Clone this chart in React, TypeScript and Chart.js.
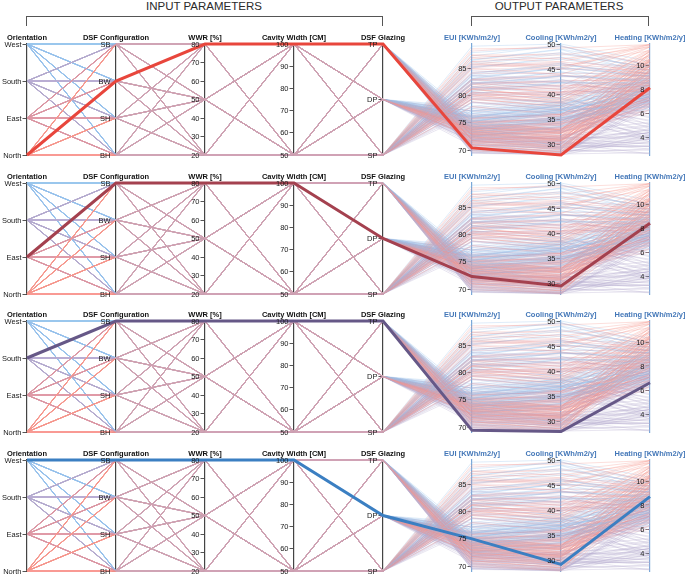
import React, { useEffect, useRef } from "react";
import { Chart, registerables } from "chart.js";

Chart.register(...registerables);

const FONT = '"Liberation Sans", Arial, Helvetica, sans-serif';

const axisTitles = [
  "Orientation",
  "DSF Configuration",
  "WWR [%]",
  "Cavity Width [CM]",
  "DSF Glazing",
  "EUI [KWh/m2/y]",
  "Cooling [KWh/m2/y]",
  "Heating [KWh/m2/y]",
];

// categorical axes, bottom -> top
const orientations = ["North", "East", "South", "West"];
const configurations = ["BH", "SH", "BW", "SB"];
const glazings = ["SP", "DP", "TP"];
// order in which the data blocks are listed
const configDataOrder = ["SB", "BW", "SH", "BH"];
const wwrLevels = [20, 50, 80];
const cavityLevels = [50, 100];
const glazingDataOrder = ["SP", "DP", "TP"];

const axisMin = [0, 0, 20, 50, 0, 69.1, 28, 2.5];
const axisMax = [3, 3, 80, 100, 2, 89.5, 50, 11.75];
const axisTicks = [
  [0, 1, 2, 3],
  [0, 1, 2, 3],
  [20, 30, 40, 50, 60, 70, 80],
  [50, 60, 70, 80, 90, 100],
  [0, 1, 2],
  [70, 75, 80, 85],
  [30, 35, 40, 45, 50],
  [4, 6, 8, 10],
];

// Each block of 18: WWR 20 / 50 / 80 x cavity 50 / 100 x glazing SP, DP, TP; blocks SB, BW, SH, BH
const euiNorth = [
  79.3, 73.1, 71.8, 78.0, 72.4, 71.0, 81.2, 73.7, 71.3, 80.1, 72.5, 70.9, 86.0, 74.2, 70.6, 85.0, 73.0, 69.9,
  80.4, 74.1, 73.3, 79.5, 73.6, 72.2, 82.3, 74.8, 72.6, 81.3, 73.8, 71.7, 87.4, 75.4, 71.6, 86.3, 74.3, 70.4,
  79.8, 73.5, 72.7, 78.9, 72.9, 71.7, 81.7, 74.0, 72.0, 80.7, 73.4, 71.4, 86.9, 74.5, 71.0, 85.8, 73.9, 70.2,
  81.1, 75.0, 74.1, 80.2, 74.3, 73.1, 83.0, 75.6, 73.4, 82.1, 74.6, 72.8, 88.6, 76.1, 72.4, 87.5, 75.2, 71.8,
];
const euiEast = [
  80.2, 74.0, 73.1, 79.4, 73.2, 72.1, 82.0, 74.4, 72.6, 81.3, 73.8, 71.8, 85.2, 75.1, 71.4, 84.1, 72.3, 70.8,
  81.3, 75.3, 74.1, 80.5, 74.3, 73.6, 83.1, 75.8, 73.9, 82.4, 74.9, 72.8, 86.3, 76.0, 72.8, 85.4, 75.2, 71.9,
  80.5, 74.7, 73.4, 79.9, 73.8, 72.9, 82.8, 75.0, 73.0, 81.6, 74.3, 72.3, 85.6, 75.8, 72.0, 84.9, 74.6, 71.3,
  82.2, 76.1, 75.0, 81.1, 75.4, 74.2, 84.3, 76.4, 74.6, 83.0, 75.7, 73.8, 88.2, 77.2, 73.4, 87.0, 76.3, 72.7,
];
const euiSouth = [
  77.6, 71.6, 70.4, 76.7, 70.8, 69.9, 79.4, 72.1, 70.1, 78.8, 71.2, 69.6, 82.5, 72.4, 69.5, 81.6, 71.6, 69.4,
  78.8, 72.6, 71.8, 77.9, 72.0, 71.0, 80.7, 73.3, 71.1, 79.9, 72.5, 70.6, 83.8, 73.8, 70.3, 82.9, 72.8, 69.8,
  78.1, 72.2, 71.0, 77.2, 71.5, 70.4, 80.2, 72.5, 70.7, 79.3, 71.8, 70.0, 83.1, 73.0, 69.9, 82.4, 72.3, 69.6,
  79.6, 73.4, 72.6, 78.7, 72.8, 71.8, 81.6, 74.1, 72.0, 80.6, 73.2, 71.3, 84.6, 74.3, 71.1, 83.7, 73.6, 70.5,
];
const euiWest = [
  81.0, 75.2, 74.1, 80.3, 74.3, 73.2, 83.1, 75.4, 73.6, 82.2, 74.8, 72.6, 86.0, 76.1, 72.4, 85.3, 75.0, 71.9,
  82.3, 76.1, 75.3, 81.4, 75.5, 74.3, 84.0, 76.8, 74.6, 83.5, 75.9, 73.9, 87.3, 77.2, 73.8, 86.5, 76.3, 72.9,
  81.6, 75.7, 74.6, 80.8, 74.9, 73.8, 83.7, 76.0, 74.2, 82.8, 75.2, 73.3, 86.6, 76.6, 73.2, 85.7, 75.9, 72.4,
  83.2, 77.1, 76.0, 82.1, 76.3, 75.2, 85.1, 77.6, 75.4, 84.2, 76.7, 74.8, 89.1, 78.0, 74.5, 87.9, 77.2, 73.6,
];

const coolNorth = [
  37.8, 31.2, 29.4, 36.0, 30.6, 28.7, 39.2, 31.9, 29.0, 38.5, 30.2, 28.6, 45.3, 32.4, 28.3, 44.0, 30.7, 28.1,
  38.9, 32.3, 30.9, 37.4, 31.8, 29.8, 41.0, 33.1, 30.2, 39.3, 31.4, 29.7, 47.0, 33.0, 29.2, 45.6, 32.6, 28.0,
  38.3, 31.1, 30.9, 36.8, 31.0, 29.3, 40.4, 32.2, 29.6, 38.7, 31.5, 29.0, 46.5, 32.8, 28.6, 45.0, 31.6, 28.2,
  39.7, 32.8, 32.3, 38.1, 32.6, 30.8, 41.7, 33.9, 31.0, 40.1, 32.9, 30.5, 49.2, 34.4, 30.1, 47.8, 33.0, 29.4,
];
const coolEast = [
  40.1, 34.2, 32.7, 39.9, 33.4, 31.7, 42.6, 34.1, 32.8, 41.3, 34.0, 31.3, 46.0, 35.4, 30.9, 44.2, 29.6, 30.3,
  41.9, 35.0, 34.3, 40.5, 34.6, 33.2, 43.8, 36.1, 33.5, 42.5, 35.2, 32.4, 47.3, 35.7, 32.9, 46.2, 34.9, 31.4,
  40.5, 35.0, 33.1, 40.4, 33.9, 32.5, 43.5, 34.7, 33.2, 41.6, 34.6, 31.9, 46.4, 36.1, 31.6, 45.1, 34.3, 30.8,
  42.8, 35.8, 35.3, 41.1, 35.7, 33.8, 45.1, 36.8, 34.3, 43.7, 36.0, 33.4, 49.6, 37.0, 33.6, 48.2, 36.1, 32.3,
];
const coolSouth = [
  36.5, 29.6, 28.9, 35.0, 29.4, 28.2, 38.4, 30.7, 28.4, 37.2, 29.8, 28.0, 41.7, 30.5, 28.1, 40.1, 30.2, 28.1,
  37.8, 30.7, 30.4, 36.2, 30.6, 29.1, 39.8, 32.0, 29.2, 38.3, 31.2, 28.7, 43.0, 32.5, 28.4, 41.5, 31.5, 28.2,
  37.0, 30.2, 29.6, 35.5, 30.1, 28.5, 39.3, 31.2, 28.8, 37.7, 30.4, 28.3, 42.3, 31.1, 28.2, 41.0, 31.0, 28.1,
  38.6, 31.5, 31.3, 37.1, 31.5, 29.9, 40.7, 32.8, 30.1, 39.1, 31.9, 29.4, 43.9, 33.1, 29.2, 42.3, 32.3, 28.6,
];
const coolWest = [
  42.5, 37.0, 35.2, 42.4, 35.5, 34.9, 45.3, 36.6, 35.3, 43.7, 36.6, 33.7, 48.3, 37.9, 33.5, 47.0, 29.3, 32.9,
  44.5, 37.3, 37.1, 42.9, 37.3, 35.5, 46.2, 38.1, 36.4, 45.1, 37.7, 35.0, 49.7, 39.1, 34.9, 48.9, 37.6, 34.0,
  43.7, 36.9, 36.4, 42.3, 36.7, 34.9, 45.9, 37.8, 35.3, 44.4, 37.0, 34.4, 49.0, 37.9, 34.3, 48.0, 37.1, 33.7,
  45.4, 38.4, 37.8, 43.6, 38.2, 36.4, 47.4, 39.5, 36.6, 45.8, 38.6, 36.0, 50.0, 39.9, 35.7, 49.5, 38.5, 34.7,
];

const heatNorth = [
  10.3, 9.1, 8.4, 9.9, 9.0, 8.2, 11.1, 10.0, 9.0, 10.7, 9.9, 8.8, 11.7, 10.7, 9.9, 11.5, 10.5, 9.6,
  9.9, 8.9, 8.1, 9.7, 8.6, 7.9, 10.8, 9.6, 8.8, 10.5, 9.5, 8.6, 11.5, 10.4, 9.5, 11.2, 10.3, 8.1,
  10.5, 9.6, 8.5, 10.3, 9.2, 8.5, 11.3, 10.2, 9.4, 11.1, 10.1, 9.2, 11.7, 11.0, 10.2, 11.6, 10.9, 10.0,
  10.8, 9.7, 8.8, 10.4, 9.5, 8.6, 11.5, 10.5, 9.6, 11.2, 10.3, 9.4, 11.7, 11.2, 10.4, 11.7, 11.0, 10.1,
];
const heatEast = [
  8.3, 7.2, 6.6, 8.0, 7.1, 6.3, 8.9, 7.8, 7.1, 8.6, 7.7, 6.8, 9.6, 8.7, 7.5, 9.3, 8.4, 7.4,
  7.9, 7.0, 6.2, 7.8, 6.8, 6.0, 8.5, 7.6, 6.7, 8.3, 7.4, 6.5, 9.2, 8.3, 7.3, 9.0, 8.1, 7.1,
  8.5, 7.6, 6.9, 8.3, 7.4, 6.6, 9.1, 8.2, 7.3, 8.9, 8.0, 7.1, 9.8, 8.9, 7.9, 9.6, 8.7, 7.7,
  8.7, 7.8, 7.0, 8.5, 7.6, 6.8, 9.3, 8.4, 7.5, 9.1, 8.2, 7.3, 10.0, 9.1, 8.1, 9.8, 8.9, 7.9,
];
const heatSouth = [
  4.1, 3.5, 2.9, 3.9, 3.3, 2.7, 5.3, 4.6, 4.1, 5.1, 4.4, 3.9, 7.3, 7.0, 6.8, 7.1, 6.8, 6.6,
  3.8, 3.2, 2.6, 3.6, 3.0, 2.6, 5.0, 4.3, 3.8, 4.8, 4.1, 3.6, 7.0, 6.7, 6.5, 6.8, 6.5, 6.3,
  4.4, 3.8, 3.2, 4.2, 3.6, 3.0, 5.6, 4.9, 4.4, 5.4, 4.7, 4.2, 7.6, 7.3, 7.1, 7.4, 7.1, 6.9,
  4.7, 4.0, 3.4, 4.5, 3.8, 3.2, 5.9, 5.2, 4.6, 5.7, 5.0, 4.4, 7.9, 7.6, 7.3, 7.7, 7.4, 7.1,
];
const heatWest = [
  8.5, 7.5, 6.9, 8.2, 7.4, 6.6, 9.1, 8.1, 7.4, 8.8, 8.0, 7.1, 9.8, 8.9, 8.0, 9.5, 8.7, 7.6,
  8.1, 7.3, 6.5, 7.9, 7.1, 6.3, 8.8, 7.9, 7.0, 8.5, 7.7, 6.8, 9.4, 8.6, 7.6, 9.2, 8.4, 7.4,
  8.7, 7.9, 7.1, 8.5, 7.7, 6.9, 9.3, 8.5, 7.6, 9.1, 8.3, 7.4, 10.0, 9.2, 8.2, 9.8, 9.0, 8.0,
  9.0, 8.1, 7.3, 8.7, 7.9, 7.1, 9.6, 8.7, 7.8, 9.3, 8.5, 7.6, 10.3, 9.4, 8.4, 10.0, 9.2, 8.1,
];

const euiByOrientation = [euiNorth, euiEast, euiSouth, euiWest];
const coolByOrientation = [coolNorth, coolEast, coolSouth, coolWest];
const heatByOrientation = [heatNorth, heatEast, heatSouth, heatWest];

const orientationColors = [
  "rgba(246,150,138,0.3)",
  "rgba(218,150,162,0.3)",
  "rgba(178,168,204,0.3)",
  "rgba(150,192,234,0.3)",
];

// highlighted design per panel
const highlightOrientation = ["North", "East", "South", "West"];
const highlightConfiguration = ["BW", "SB", "SB", "SB"];
const highlightWWR = [80, 80, 80, 80];
const highlightCavity = [100, 100, 100, 100];
const highlightGlazing = ["TP", "DP", "TP", "DP"];
const highlightColors = ["#e8463c", "#a4414f", "#665887", "#3b7fc2"];

const panelTops = [30, 169, 307, 446];
const CANVAS_W = 685;
const CANVAS_H = 136;

function norm(i: number, v: number) {
  return (v - axisMin[i]) / (axisMax[i] - axisMin[i]);
}

function rowValues(o: number, ci: number, wi: number, vi: number, gi: number) {
  const k = ci * 18 + wi * 6 + vi * 3 + gi;
  const cfg = configDataOrder[ci];
  const gl = glazingDataOrder[gi];
  return [
    o,
    configurations.indexOf(cfg),
    wwrLevels[wi],
    cavityLevels[vi],
    glazings.indexOf(gl),
    euiByOrientation[o][k],
    coolByOrientation[o][k],
    heatByOrientation[o][k],
  ];
}

function toPoints(vals: number[]) {
  return vals.map((v, i) => ({ x: i, y: norm(i, v) }));
}

function buildDatasets(panel: number) {
  const ds: any[] = [];
  const ho = orientations.indexOf(highlightOrientation[panel]);
  const hc = configDataOrder.indexOf(highlightConfiguration[panel]);
  const hw = wwrLevels.indexOf(highlightWWR[panel]);
  const hv = cavityLevels.indexOf(highlightCavity[panel]);
  const hg = glazingDataOrder.indexOf(highlightGlazing[panel]);
  ds.push({
    data: toPoints(rowValues(ho, hc, hw, hv, hg)),
    borderColor: highlightColors[panel],
    borderWidth: 3,
  });
  configDataOrder.forEach((_, ci) =>
    wwrLevels.forEach((_w, wi) =>
      cavityLevels.forEach((_c, vi) =>
        glazingDataOrder.forEach((_g, gi) =>
          orientations.forEach((_o, o) => {
            ds.push({
              data: toPoints(rowValues(o, ci, wi, vi, gi)),
              borderColor: orientationColors[o],
              borderWidth: 1,
            });
          })
        )
      )
    )
  );
  return ds;
}

function tickLabel(i: number, v: number) {
  if (i === 0) return orientations[v];
  if (i === 1) return configurations[v];
  if (i === 4) return glazings[v];
  return String(v);
}

const labelPlugin = {
  id: "axisLabels",
  afterDraw(chart: any) {
    const ctx = chart.ctx;
    const xs = chart.scales.x;
    const top = chart.chartArea.top;
    ctx.save();
    ctx.font = `bold 7.5px ${FONT}`;
    ctx.textAlign = "center";
    ctx.textBaseline = "alphabetic";
    axisTitles.forEach((t, i) => {
      ctx.fillStyle = i < 5 ? "#111111" : "#4377b8";
      ctx.fillText(t, xs.getPixelForValue(i), top - 4.3);
    });
    ctx.font = `7.5px ${FONT}`;
    ctx.textAlign = "right";
    ctx.textBaseline = "middle";
    ctx.fillStyle = "#1a1a1a";
    axisTitles.forEach((_, i) => {
      const sc = chart.scales["ax" + i];
      const ax = xs.getPixelForValue(i);
      axisTicks[i].forEach((v) => {
        ctx.fillText(tickLabel(i, v), ax - 5.5, sc.getPixelForValue(v) + 0.5);
      });
    });
    ctx.restore();
  },
};

function Panel({ index }: { index: number }) {
  const ref = useRef<HTMLCanvasElement | null>(null);
  useEffect(() => {
    if (!ref.current) return;
    const scales: any = {
      x: { type: "linear", min: 0, max: 7, display: false },
      y: { type: "linear", min: 0, max: 1, display: false },
    };
    axisTitles.forEach((_, i) => {
      const color = i < 5 ? "#444444" : "#7aa8d8";
      scales["ax" + i] = {
        type: "linear",
        axis: "y",
        position: { x: i },
        min: axisMin[i],
        max: axisMax[i],
        z: 1,
        afterBuildTicks: (scale: any) => {
          scale.ticks = axisTicks[i].map((v) => ({ value: v }));
        },
        ticks: { display: false },
        grid: {
          drawOnChartArea: false,
          drawTicks: true,
          tickLength: 3.5,
          color: "#555555",
          lineWidth: 1,
        },
        border: { display: true, color, width: 1.2 },
      };
    });
    const chart = new Chart(ref.current, {
      type: "line",
      data: { datasets: buildDatasets(index) },
      options: {
        animation: false,
        responsive: false,
        events: [],
        layout: { padding: { left: 27, right: 35, top: 14, bottom: 11 } },
        elements: { point: { radius: 0 }, line: { tension: 0, fill: false } },
        datasets: { line: { clip: false } as any },
        plugins: { legend: { display: false }, tooltip: { enabled: false } },
        scales,
      } as any,
      plugins: [labelPlugin],
    });
    return () => chart.destroy();
  }, [index]);
  return (
    <canvas
      ref={ref}
      width={CANVAS_W}
      height={CANVAS_H}
      style={{ position: "absolute", left: 0, top: panelTops[index], width: CANVAS_W, height: CANVAS_H }}
    />
  );
}

export default function App() {
  const headerText: React.CSSProperties = {
    position: "absolute",
    top: 0,
    fontFamily: FONT,
    fontSize: 11.5,
    lineHeight: "12px",
    color: "#2a2a2a",
    textAlign: "center",
    whiteSpace: "nowrap",
  };
  const bracket: React.CSSProperties = {
    position: "absolute",
    top: 16,
    height: 10,
    borderTop: "1px solid #555",
    borderLeft: "1px solid #555",
    borderRight: "1px solid #555",
    boxSizing: "border-box",
  };
  return (
    <div
      style={{
        position: "fixed",
        left: 0,
        top: 0,
        width: 685,
        height: 577,
        overflow: "hidden",
        background: "#ffffff",
      }}
    >
      <div style={{ ...headerText, left: 104, width: 200 }}>INPUT PARAMETERS</div>
      <div style={{ ...headerText, left: 459, width: 200 }}>OUTPUT PARAMETERS</div>
      <div style={{ ...bracket, left: 26, width: 357 }} />
      <div style={{ ...bracket, left: 471, width: 178 }} />
      {[0, 1, 2, 3].map((i) => (
        <Panel key={i} index={i} />
      ))}
    </div>
  );
}
